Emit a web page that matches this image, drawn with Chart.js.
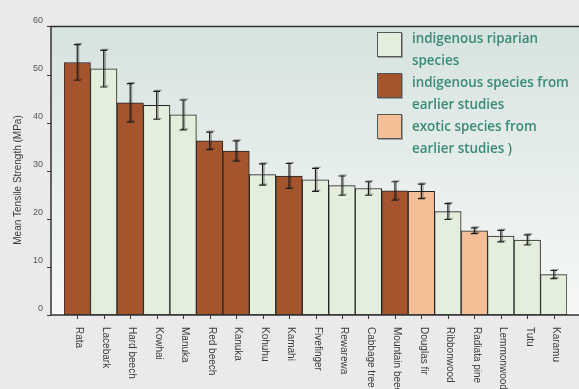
<!DOCTYPE html>
<html>
<head>
<meta charset="utf-8">
<script src="https://cdn.jsdelivr.net/npm/chart.js@4"></script>
<style>
  html, body { margin: 0; padding: 0; background: #e9eae9; }
  #wrap { width: 579px; height: 389px; position: relative; }
</style>
</head>
<body>
<div id="wrap"><canvas id="strengthChart"></canvas></div>
<script>
// species, in the order drawn
const species = ['Rata', 'Lacebark', 'Hard beech', 'Kowhai', 'Manuka', 'Red beech', 'Kanuka',
  'Kohuhu', 'Kamahi', 'Fivefinger', 'Rewarewa', 'Cabbage tree', 'Mountain beech', 'Douglas fir',
  'Ribbonwood', 'Radiata pine', 'Lemmonwood', 'Tutu', 'Karamu'];
const meanStrength = [52.5, 51.2, 44.1, 43.6, 41.6, 36.2, 34.1, 29.2, 28.9, 28.1, 26.9, 26.3,
  25.8, 25.7, 21.5, 17.5, 16.4, 15.6, 8.4];
const errorBar = [3.7, 3.8, 4.0, 2.9, 3.1, 1.8, 2.1, 2.2, 2.6, 2.4, 2.0, 1.4, 1.9, 1.5, 1.65,
  0.6, 1.2, 1.05, 0.85];
// 0 = indigenous riparian, 1 = indigenous earlier studies, 2 = exotic earlier studies
const speciesGroup = [1, 0, 1, 0, 0, 1, 1, 0, 1, 0, 0, 0, 1, 2, 0, 2, 0, 0, 0];
const groupNames = [
  ['indigenous riparian', 'species'],
  ['indigenous species from', 'earlier studies'],
  ['exotic species from', 'earlier studies )']
];
const groupColors = ['#e3efdc', '#a5552e', '#f4bf96'];
const yTicks = [0, 10, 20, 30, 40, 50, 60];

const plotLeft = 51;

const frame = {
  id: 'frame',
  beforeDraw(chart) {
    const { ctx, chartArea, width } = chart;
    const g = ctx.createLinearGradient(0, chartArea.top, 0, chartArea.bottom);
    g.addColorStop(0, '#d6e3df');
    g.addColorStop(1, '#f6f8f7');
    ctx.save();
    ctx.fillStyle = g;
    ctx.fillRect(plotLeft, chartArea.top, width - plotLeft, chartArea.bottom - chartArea.top);
    ctx.restore();
  },
  afterDatasetsDraw(chart) {
    const { ctx, chartArea, width } = chart;
    const y = chart.scales.y;
    const meta = chart.getDatasetMeta(0);
    ctx.save();

    // error bars
    ctx.lineWidth = 1.2;
    ctx.strokeStyle = '#1e1e1e';
    ctx.shadowColor = 'rgba(0,0,0,0.35)';
    ctx.shadowOffsetX = 1.5;
    ctx.shadowOffsetY = -1;
    meta.data.forEach((bar, i) => {
      const top = y.getPixelForValue(meanStrength[i] + errorBar[i]);
      const bot = y.getPixelForValue(meanStrength[i] - errorBar[i]);
      ctx.beginPath();
      ctx.moveTo(bar.x, top); ctx.lineTo(bar.x, bot);
      ctx.moveTo(bar.x - 3.5, top); ctx.lineTo(bar.x + 3.5, top);
      ctx.moveTo(bar.x - 3.5, bot); ctx.lineTo(bar.x + 3.5, bot);
      ctx.stroke();
    });
    ctx.shadowColor = 'transparent';

    // axes
    ctx.strokeStyle = '#333';
    ctx.lineWidth = 1.5;
    ctx.beginPath();
    ctx.moveTo(width, chartArea.top); ctx.lineTo(plotLeft, chartArea.top);
    ctx.lineTo(plotLeft, chartArea.bottom); ctx.lineTo(width, chartArea.bottom);
    ctx.stroke();
    ctx.lineWidth = 1;
    ctx.beginPath();
    yTicks.forEach(v => {
      const py = Math.round(y.getPixelForValue(v)) + 0.5;
      ctx.moveTo(plotLeft - 4, py); ctx.lineTo(plotLeft, py);
    });
    meta.data.forEach(bar => {
      const px = Math.round(bar.x) + 0.5;
      ctx.moveTo(px, chartArea.bottom); ctx.lineTo(px, chartArea.bottom + 4);
    });
    ctx.stroke();

    // category labels, rotated clockwise
    ctx.fillStyle = '#3a3a3a';
    ctx.font = '10px "Liberation Sans", Arial, sans-serif';
    ctx.textAlign = 'left';
    ctx.textBaseline = 'middle';
    meta.data.forEach((bar, i) => {
      ctx.save();
      ctx.translate(bar.x + 2, chartArea.bottom + 12);
      ctx.rotate(Math.PI / 2);
      ctx.fillText(species[i], 0, 0);
      ctx.restore();
    });

    // y title
    ctx.save();
    ctx.translate(18, 180);
    ctx.rotate(-Math.PI / 2);
    ctx.textAlign = 'center';
    ctx.fillText('Mean Tensile Strength (MPa)', 0, 0);
    ctx.restore();

    // legend
    const boxTops = [32, 73, 114];
    const baselines = [43, 87, 131];
    ctx.font = '600 13.4px "Open Sans", "Noto Sans", sans-serif';
    ctx.textBaseline = 'alphabetic';
    groupNames.forEach((lines, k) => {
      ctx.save();
      ctx.shadowColor = 'rgba(0,0,0,0.3)';
      ctx.shadowOffsetX = 1;
      ctx.shadowOffsetY = 1;
      ctx.fillStyle = groupColors[k];
      ctx.fillRect(377, boxTops[k], 25, 25);
      ctx.restore();
      ctx.strokeStyle = '#555';
      ctx.lineWidth = 1;
      ctx.strokeRect(377.5, boxTops[k] + 0.5, 24, 24);
      ctx.fillStyle = '#3a8a78';
      lines.forEach((t, j) => ctx.fillText(t, 412, baselines[k] + j * 22));
    });
    ctx.restore();
  }
};

new Chart(document.getElementById('strengthChart'), {
  type: 'bar',
  data: {
    labels: species,
    datasets: [{
      data: meanStrength,
      backgroundColor: speciesGroup.map(g => groupColors[g]),
      borderColor: '#222',
      borderWidth: 1,
      borderSkipped: false,
      categoryPercentage: 1,
      barPercentage: 1
    }]
  },
  options: {
    responsive: true,
    maintainAspectRatio: false,
    animation: false,
    layout: { padding: { top: 22, right: 12, bottom: 74, left: 0 } },
    scales: {
      x: {
        grid: { display: false },
        border: { display: false },
        ticks: { display: false },
        afterFit: s => { s.height = 0; }
      },
      y: {
        min: 0,
        max: 60,
        afterBuildTicks: s => { s.ticks = yTicks.map(v => ({ value: v })); },
        afterFit: s => { s.width = 64; },
        grid: { display: false, drawTicks: false },
        border: { display: false },
        ticks: {
          padding: 21,
          labelOffset: -6,
          color: '#555',
          font: { family: '"Liberation Sans", Arial, sans-serif', size: 9 }
        }
      }
    },
    plugins: {
      legend: { display: false },
      tooltip: { enabled: false }
    }
  },
  plugins: [frame]
});
</script>
</body>
</html>
